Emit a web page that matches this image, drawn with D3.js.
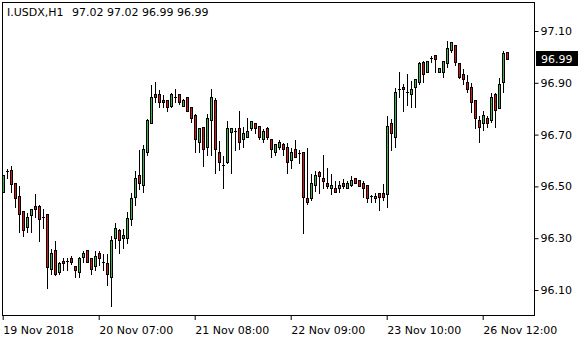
<!DOCTYPE html>
<html>
<head>
<meta charset="utf-8">
<script src="https://cdn.jsdelivr.net/npm/d3@7"></script>
<style>
  body { margin: 0; background: #fff; }
  svg { display: block; font-family: "DejaVu Sans", sans-serif; font-size: 11px; }
</style>
</head>
<body>
<div id="chart"></div>
<script>
// I.USDX H1 candles
var symbol = "I.USDX,H1";
var open = [96.480,96.559,96.563,96.512,96.463,96.405,96.343,96.390,96.424,96.424,
  96.383,96.392,96.180,96.253,96.171,96.212,96.211,96.222,96.193,96.171,
  96.229,96.253,96.222,96.193,96.242,96.209,96.203,96.151,96.302,96.332,
  96.302,96.302,96.374,96.460,96.544,96.505,96.632,96.744,96.856,96.856,
  96.834,96.834,96.812,96.844,96.856,96.812,96.844,96.805,96.776,96.673,
  96.731,96.653,96.756,96.834,96.632,96.581,96.593,96.711,96.714,96.724,
  96.682,96.692,96.724,96.744,96.733,96.682,96.724,96.682,96.632,96.653,
  96.663,96.653,96.602,96.643,96.628,96.632,96.456,96.454,96.505,96.554,
  96.534,96.512,96.493,96.493,96.493,96.514,96.493,96.505,96.531,96.525,
  96.512,96.505,96.463,96.454,96.473,96.473,96.471,96.744,96.692,96.875,
  96.885,96.866,96.856,96.885,96.904,96.981,96.943,96.995,97.007,96.943,
  96.943,96.975,97.027,97.046,96.975,96.933,96.904,96.883,96.834,96.756,
  96.744,96.763,96.756,96.856,96.804,96.904,97.02];
var high = [96.548,96.571,96.583,96.513,96.505,96.405,96.400,96.413,96.473,96.431,
  96.415,96.392,96.261,96.293,96.212,96.229,96.229,96.235,96.193,96.231,
  96.255,96.253,96.229,96.255,96.255,96.242,96.242,96.312,96.364,96.341,
  96.341,96.405,96.480,96.563,96.644,96.663,96.765,96.894,96.907,96.876,
  96.856,96.834,96.866,96.879,96.856,96.840,96.844,96.805,96.782,96.731,
  96.731,96.782,96.879,96.845,96.679,96.621,96.756,96.724,96.731,96.795,
  96.733,96.769,96.756,96.748,96.733,96.724,96.733,96.682,96.663,96.682,
  96.673,96.673,96.653,96.682,96.643,96.632,96.653,96.553,96.563,96.563,
  96.625,96.576,96.551,96.525,96.525,96.531,96.525,96.544,96.531,96.525,
  96.525,96.505,96.471,96.480,96.480,96.512,96.776,96.763,96.885,96.946,
  96.898,96.937,96.911,96.917,96.985,96.988,96.984,97.007,97.007,96.956,
  96.984,97.065,97.061,97.046,96.975,96.956,96.933,96.904,96.834,96.776,
  96.795,96.776,96.863,96.863,96.924,97.027,97.02];
var low = [96.478,96.532,96.480,96.422,96.323,96.310,96.325,96.323,96.381,96.289,
  96.341,96.109,96.161,96.158,96.161,96.177,96.177,96.199,96.151,96.151,
  96.207,96.207,96.161,96.177,96.196,96.177,96.119,96.039,96.261,96.242,
  96.261,96.280,96.351,96.428,96.490,96.480,96.621,96.744,96.825,96.805,
  96.805,96.792,96.805,96.825,96.817,96.812,96.792,96.750,96.632,96.632,
  96.580,96.621,96.621,96.553,96.563,96.493,96.589,96.553,96.641,96.643,
  96.653,96.692,96.718,96.705,96.682,96.673,96.682,96.612,96.621,96.643,
  96.621,96.553,96.570,96.612,96.589,96.321,96.432,96.448,96.483,96.473,
  96.493,96.493,96.471,96.480,96.480,96.493,96.493,96.502,96.512,96.502,
  96.460,96.441,96.441,96.441,96.409,96.448,96.422,96.641,96.653,96.844,
  96.792,96.814,96.808,96.808,96.895,96.904,96.943,96.981,96.943,96.943,
  96.924,96.962,97.020,96.969,96.917,96.894,96.863,96.788,96.724,96.673,
  96.718,96.731,96.748,96.731,96.804,96.866,96.99];
var close = [96.544,96.559,96.508,96.454,96.392,96.331,96.382,96.413,96.412,96.373,
  96.383,96.190,96.242,96.161,96.203,96.203,96.211,96.209,96.177,96.222,
  96.243,96.209,96.180,96.230,96.222,96.209,96.161,96.293,96.341,96.292,
  96.312,96.379,96.454,96.531,96.512,96.644,96.756,96.844,96.844,96.825,
  96.825,96.805,96.856,96.844,96.825,96.834,96.792,96.763,96.682,96.724,
  96.644,96.763,96.844,96.643,96.593,96.581,96.724,96.724,96.714,96.673,
  96.705,96.714,96.754,96.724,96.692,96.714,96.692,96.643,96.663,96.673,
  96.643,96.593,96.632,96.612,96.628,96.460,96.441,96.512,96.544,96.540,
  96.522,96.502,96.505,96.480,96.505,96.502,96.514,96.525,96.512,96.502,
  96.493,96.454,96.463,96.463,96.460,96.460,96.733,96.705,96.866,96.875,
  96.875,96.866,96.875,96.913,96.975,96.933,96.984,96.995,96.992,96.956,
  96.984,97.033,97.056,96.981,96.924,96.913,96.875,96.827,96.763,96.731,
  96.776,96.744,96.846,96.795,96.894,97.014,96.99];

var xTickBars = [0, 24, 48, 72, 96, 120];
var xTickLabels = ["19 Nov 2018", "20 Nov 07:00", "21 Nov 08:00", "22 Nov 09:00", "23 Nov 10:00", "26 Nov 12:00"];
var yTicks = [96.10, 96.30, 96.50, 96.70, 96.90, 97.10];

var W = 580, H = 340;
var frame = {left: 2.5, top: 2.5, right: 534.5, bottom: 315.5};
var upColor = "#3cb44b", downColor = "#dc1414";

var svg = d3.select("#chart").append("svg")
  .attr("width", W).attr("height", H);

var x = d3.scaleLinear().domain([0, open.length - 1]).range([3.5, 3.5 + 4 * (open.length - 1)]);
var y = d3.scaleLinear().domain([96.10, 97.10]).range([290, 31]);

// frame
svg.append("rect")
  .attr("x", frame.left).attr("y", frame.top)
  .attr("width", frame.right - frame.left).attr("height", frame.bottom - frame.top)
  .attr("fill", "none").attr("stroke", "#000").attr("shape-rendering", "crispEdges");

// y axis on the right
var yAxis = svg.append("g")
  .attr("transform", "translate(" + frame.right + ",0)")
  .call(d3.axisRight(y).tickValues(yTicks).tickSize(4).tickPadding(2).tickFormat(d3.format(".2f")));
yAxis.select(".domain").remove();
yAxis.selectAll("line").attr("stroke", "#000");
yAxis.selectAll("text").attr("fill", "#000").style("font-size", "11px").style("font-family", "DejaVu Sans");

// x axis under the frame
var xAxis = svg.append("g")
  .attr("transform", "translate(-0.8," + (frame.bottom - 0.5) + ")")
  .call(d3.axisBottom(x).tickValues(xTickBars).tickSize(5)
    .tickFormat(function(d, i) { return xTickLabels[i]; }));
xAxis.select(".domain").remove();
xAxis.selectAll("line").attr("stroke", "#000");
xAxis.selectAll("text")
  .attr("text-anchor", "start").attr("x", 0).attr("y", 11)
  .attr("fill", "#000").style("font-size", "11px").style("font-family", "DejaVu Sans");

// candles
var bars = d3.range(open.length);
var g = svg.append("g").attr("shape-rendering", "crispEdges");

g.selectAll(".wick").data(bars).enter().append("line")
  .attr("class", "wick")
  .attr("x1", function(i) { return x(i); }).attr("x2", function(i) { return x(i); })
  .attr("y1", function(i) { return Math.round(y(high[i])) + 0.5; })
  .attr("y2", function(i) { return Math.round(y(low[i])) + 0.5; })
  .attr("stroke", "#000");

g.selectAll(".body").data(bars.filter(function(i) { return Math.abs(y(open[i]) - y(close[i])) >= 1; }))
  .enter().append("rect")
  .attr("class", "body")
  .attr("x", function(i) { return x(i) - 1; })
  .attr("width", 2)
  .attr("y", function(i) { return Math.round(y(Math.max(open[i], close[i]))) + 0.5; })
  .attr("height", function(i) { return Math.max(1, Math.round(y(Math.min(open[i], close[i]))) - Math.round(y(Math.max(open[i], close[i])))); })
  .attr("fill", function(i) { return close[i] > open[i] ? upColor : downColor; })
  .attr("stroke", "#000");

g.selectAll(".doji").data(bars.filter(function(i) { return Math.abs(y(open[i]) - y(close[i])) < 1; }))
  .enter().append("line")
  .attr("class", "doji")
  .attr("x1", function(i) { return x(i) - 1.5; }).attr("x2", function(i) { return x(i) + 1.5; })
  .attr("y1", function(i) { return Math.round(y(close[i])) + 0.5; })
  .attr("y2", function(i) { return Math.round(y(close[i])) + 0.5; })
  .attr("stroke", "#000");

// header
var last = open.length - 1;
var fmt = d3.format(".2f");
svg.append("text").attr("x", 7).attr("y", 16).attr("fill", "#000").text(symbol);
svg.append("text").attr("x", 72).attr("y", 16).attr("fill", "#000")
  .text([open[last], high[last], low[last], close[last]].map(fmt).join(" "));

// current price label
var py = y(close[last]);
svg.append("rect")
  .attr("x", frame.right + 1.5).attr("y", Math.round(py) - 8)
  .attr("width", 42).attr("height", 15).attr("fill", "#000");
svg.append("text")
  .attr("x", frame.right + 6.5).attr("y", py).attr("dy", "0.36em")
  .attr("fill", "#fff").text(fmt(close[last]));
</script>
</body>
</html>
